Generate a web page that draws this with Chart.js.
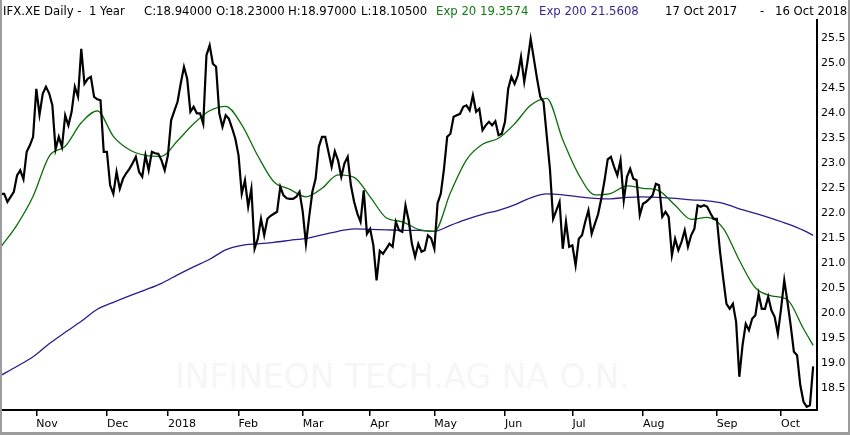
<!DOCTYPE html>
<html>
<head>
<meta charset="utf-8">
<script src="https://cdn.jsdelivr.net/npm/chart.js@4.4.1/dist/chart.umd.min.js"></script>
<style>
html,body{margin:0;padding:0;background:#fff;}
#wrap{position:relative;width:850px;height:435px;overflow:hidden;font-family:"DejaVu Sans",sans-serif;background:#fff;}
#wm{position:absolute;left:175px;top:357px;font-size:33px;line-height:40px;color:#f6f6f6;white-space:nowrap;}
#box{position:absolute;left:0;top:0;width:850px;height:435px;}
.h{position:absolute;top:4px;font-size:11.7px;line-height:14px;white-space:pre;color:#000;}
#frame{position:absolute;left:0;top:0;width:850px;height:435px;box-sizing:border-box;border-left:2px solid #9c9c9c;border-right:2px solid #9c9c9c;border-bottom:3px solid #9c9c9c;pointer-events:none;}
</style>
</head>
<body>
<div id="wrap">
  <div id="wm">INFINEON TECH.AG NA O.N.</div>
  <div id="box"><canvas id="cv"></canvas></div>
  <div class="h" style="left:3px">IFX.XE Daily -  1 Year</div>
  <div class="h" style="left:144px">C:18.94000</div>
  <div class="h" style="left:216px">O:18.23000</div>
  <div class="h" style="left:288px">H:18.97000</div>
  <div class="h" style="left:361px">L:18.10500</div>
  <div class="h" style="left:436px;color:#137a13">Exp 20 19.3574</div>
  <div class="h" style="left:539px;color:#3a1f8c">Exp 200 21.5608</div>
  <div class="h" style="left:665px">17 Oct 2017</div>
  <div class="h" style="left:760px">-</div>
  <div class="h" style="left:775px">16 Oct 2018</div>
  <div id="frame"></div>
</div>
<script>
// ---- data ----
const firstDay = '2017-10-17';
const lastDay = '2018-10-16';
const holidays = ['2017-12-25','2017-12-26','2018-01-01','2018-03-30','2018-04-02','2018-05-01','2018-10-03'];

const closes = [
22.39,22.39,22.23,22.33,22.43,22.76,22.86,22.68,23.23,23.36,
23.53,24.49,23.97,24.39,24.53,24.40,24.16,23.28,23.53,23.33,
23.96,23.76,24.03,24.53,24.33,25.29,24.59,24.69,24.73,24.33,
24.28,24.26,23.23,23.23,22.56,22.39,22.83,22.49,22.69,22.80,
22.89,23.00,23.13,22.83,22.73,23.16,
22.86,23.23,23.20,23.19,23.06,22.86,23.16,23.86,24.05,24.23,
24.60,24.93,24.69,24.03,24.13,24.00,24.00,23.79,25.16,25.36,
24.99,24.93,24.00,23.73,23.96,23.89,23.70,23.49,23.16,22.39,
22.66,22.13,22.49,21.29,21.49,21.89,21.56,21.89,21.95,21.99,
22.03,22.53,22.36,22.30,22.29,22.29,22.33,22.43,22.03,21.39,
21.93,22.43,22.69,23.33,23.53,23.53,23.23,22.93,23.24,23.06,
22.73,23.00,23.13,22.56,22.23,22.00,21.83,22.46,21.59,21.69,
21.36,20.66,21.25,21.19,21.29,21.39,21.33,21.83,21.66,21.63,
22.16,21.86,21.39,21.13,21.39,21.23,21.26,21.56,21.50,21.29,
22.20,22.39,22.89,23.53,23.59,23.93,23.96,23.99,24.13,24.16,
24.06,24.36,24.03,24.09,23.66,23.76,23.83,23.76,
23.84,23.56,23.59,23.83,24.49,24.73,24.59,24.76,25.13,24.63,
25.03,25.49,25.09,24.69,24.33,24.23,23.56,22.89,21.89,22.06,
22.23,21.29,21.83,21.33,21.36,20.96,21.49,21.56,21.83,22.06,
21.59,21.79,21.98,22.29,22.65,23.08,23.13,22.93,22.76,23.06,
22.26,22.73,22.89,22.69,22.66,21.96,22.19,22.23,22.29,22.36,
22.59,22.56,21.93,22.03,21.93,21.16,21.49,21.26,21.43,21.66,
21.33,21.56,21.69,22.16,22.13,22.16,22.13,22.00,21.89,21.89,
21.23,20.69,20.19,20.09,20.19,19.83,18.73,19.36,19.79,19.66,
19.89,19.96,20.39,20.09,20.09,20.33,20.06,19.93,19.59,20.09,
20.66,20.23,19.76,19.23,19.16,18.56,18.23,18.13,18.16,18.94
];

const emaDays = [0,5,10,15,20,25,30,35,40,45,50,55,60,65,70,75,80,85,90,95,100,105,110,115,120,125,130,135,140,145,150,155,160,165,170,175,180,185,190,195,200,205,210,215,220,225,230,235,240,245,250,253];

const ema20 = [
21.33,21.77,22.34,23.14,23.34,23.81,24.05,23.54,23.27,23.16,
23.14,23.45,23.79,24.05,24.14,23.77,23.15,22.63,22.48,22.33,
22.50,22.77,22.72,22.33,21.91,21.83,21.68,21.64,22.41,23.07,
23.38,23.50,23.79,24.16,24.30,23.47,22.77,22.37,22.40,22.55,
22.50,22.45,22.16,21.88,21.92,21.70,21.06,20.51,20.35,20.27,
19.69,19.36
];

const ema200 = [
18.76,18.94,19.13,19.39,19.62,19.84,20.08,20.22,20.35,20.47,
20.60,20.77,20.93,21.08,21.27,21.36,21.39,21.42,21.46,21.50,
21.57,21.64,21.69,21.68,21.67,21.66,21.66,21.64,21.76,21.88,
21.98,22.06,22.17,22.31,22.39,22.37,22.33,22.30,22.29,22.32,
22.33,22.32,22.30,22.27,22.25,22.20,22.09,22.00,21.90,21.79,
21.66,21.56
];

const monthLabels = ['Nov','Dec','2018','Feb','Mar','Apr','May','Jun','Jul','Aug','Sep','Oct'];
const yTickValues = [18.5,19.0,19.5,20.0,20.5,21.0,21.5,22.0,22.5,23.0,23.5,24.0,24.5,25.0,25.5];

// ---- trading calendar ----
function tradingDays() {
  const out = [];
  let d = new Date(firstDay + 'T12:00:00Z');
  const end = new Date(lastDay + 'T12:00:00Z');
  while (d <= end) {
    const wd = d.getUTCDay();
    const s = d.toISOString().slice(0, 10);
    if (wd !== 0 && wd !== 6 && !holidays.includes(s)) out.push(s);
    d = new Date(d.getTime() + 86400000);
  }
  return out;
}
const dates = tradingDays();
const monthStarts = [];
for (let i = 1; i < dates.length; i++) {
  if (dates[i].slice(5, 7) !== dates[i - 1].slice(5, 7)) monthStarts.push(i);
}

const font = {family: '"DejaVu Sans", sans-serif', size: 11};

new Chart(document.getElementById('cv'), {
  type: 'line',
  data: {
    datasets: [
      {
        label: 'Close',
        data: closes.map((v, i) => ({x: i, y: v})),
        borderColor: '#000',
        borderWidth: 2.2,
        pointRadius: 0,
        tension: 0,
        fill: false
      },
      {
        label: 'Exp 20',
        data: ema20.map((v, i) => ({x: emaDays[i], y: v})),
        borderColor: '#0b6e0b',
        borderWidth: 1.3,
        pointRadius: 0,
        cubicInterpolationMode: 'monotone',
        fill: false
      },
      {
        label: 'Exp 200',
        data: ema200.map((v, i) => ({x: emaDays[i], y: v})),
        borderColor: '#2e1a8a',
        borderWidth: 1.3,
        pointRadius: 0,
        cubicInterpolationMode: 'monotone',
        fill: false
      }
    ]
  },
  options: {
    responsive: true,
    maintainAspectRatio: false,
    animation: false,
    events: [],
    layout: {padding: {left: 1, top: 20, right: 0, bottom: 0}},
    plugins: {legend: {display: false}, tooltip: {enabled: false}},
    scales: {
      x: {
        type: 'linear',
        min: 0,
        max: 254.2,
        afterBuildTicks: s => { s.ticks = monthStarts.map(v => ({value: v})); },
        afterFit: s => { s.height = 25; },
        grid: {display: true, drawOnChartArea: false, drawTicks: true, tickLength: 6, color: '#000', lineWidth: 1.5},
        border: {display: true, color: '#000', width: 2},
        ticks: {
          autoSkip: false, maxRotation: 0, minRotation: 0, align: 'start', padding: 2,
          color: '#000', font: font,
          callback: v => monthLabels[monthStarts.indexOf(v)]
        }
      },
      y: {
        position: 'right',
        min: 18.066,
        max: 25.866,
        afterBuildTicks: s => { s.ticks = yTickValues.map(v => ({value: v})); },
        afterFit: s => { s.width = 33; },
        grid: {display: false, drawTicks: false},
        border: {display: true, color: '#000', width: 2},
        ticks: {padding: 4, color: '#000', font: font, callback: v => Number(v).toFixed(1)}
      }
    }
  }
});
</script>
</body>
</html>
